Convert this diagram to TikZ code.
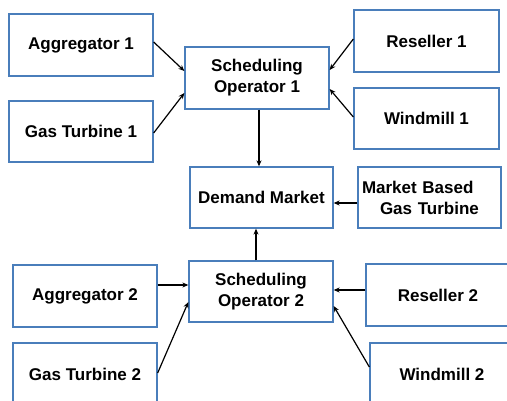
\documentclass[tikz,border=0pt]{standalone}
\usepackage{fontspec}
\setmainfont{Liberation Sans}
\usetikzlibrary{arrows.meta}
\definecolor{boxblue}{HTML}{4A7EBB}
\begin{document}
\begin{tikzpicture}[x=1pt,y=-1pt,
  box/.style={draw=boxblue,line width=1.3pt,fill=white,rectangle,inner sep=0pt,
    minimum width=#1,minimum height=62pt,font=\fontsize{17}{21}\selectfont\bfseries,align=center},
  box/.default=144pt,
  arr/.style={-{Stealth[length=6pt,width=5pt]},line width=1.2pt,black}]
\useasboundingbox (0,0) rectangle (507,401);
\clip (0,0) rectangle (507,401);
\fill[white] (0,0) rectangle (507,401);
\node[box] (agg1) at (81,45) {Aggregator 1};
\node[box,minimum height=61pt] (gt1) at (81,131.5) {Gas Turbine 1};
\node[box] (so1) at (257,78) {Scheduling\\Operator 1};
\node[box=145pt] (res1) at (426.5,41) {Reseller 1};
\node[box=145pt,minimum height=61pt] (wm1) at (426.5,118.5) {Windmill 1};
\node[box=143pt,minimum height=61pt] (dm) at (261.5,197.5) {Demand Market};
\node[box=143pt,minimum height=61pt,align=left,text width=135pt,inner xsep=4pt] (mbgt) at (429.5,197.5) {Market Based\\\hspace*{18pt}Gas Turbine};
\node[box] (agg2) at (85,296) {Aggregator 2};
\node[box,minimum height=61pt] (so2) at (261,291.5) {Scheduling\\Operator 2};
\node[box] (gt2) at (85,374) {Gas Turbine 2};
\node[box] (res2) at (438,295) {Reseller 2};
\node[box] (wm2) at (442,374) {Windmill 2};
% arrows
\draw[arr] (agg1.east |- 0,42) -- (so1.west |- 0,71);
\draw[arr] (gt1.east |- 0,133) -- (so1.west |- 0,93);
\draw[arr] (res1.west |- 0,39) -- (so1.east |- 0,70);
\draw[arr] (wm1.west |- 0,117) -- (so1.east |- 0,89);
\draw[arr] (so1.south -| 259,0) -- (dm.north -| 259,0);
\draw[arr] (mbgt.west |- 0,203) -- (dm.east |- 0,203);
\draw[arr] (so2.north -| 256,0) -- (dm.south -| 256,0);
\draw[arr] (agg2.east |- 0,285) -- (so2.west |- 0,285);
\draw[arr] (gt2.east |- 0,373) -- (so2.west |- 0,302);
\draw[arr] (res2.west |- 0,290) -- (so2.east |- 0,290);
\draw[arr] (wm2.west |- 0,367) -- (so2.east |- 0,306);
\end{tikzpicture}
\end{document}
